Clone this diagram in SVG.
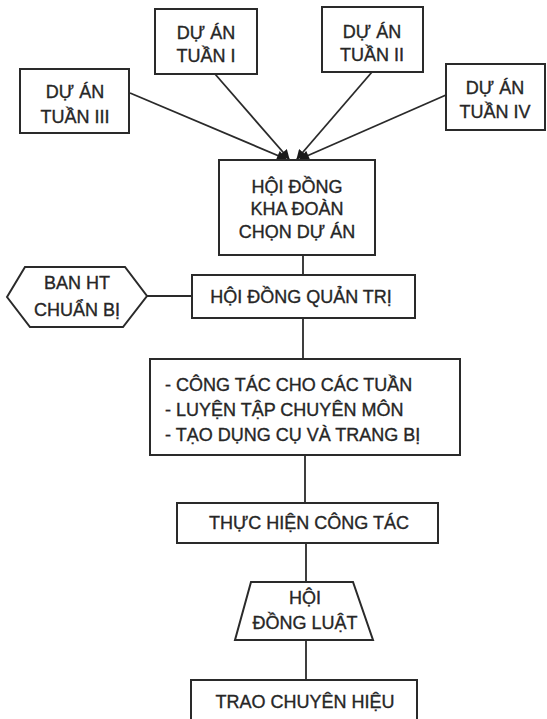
<svg xmlns="http://www.w3.org/2000/svg" width="547" height="719" viewBox="0 0 547 719">
<style>
.box{fill:#fff;stroke:#2a2a2a;stroke-width:2}
.t{font-family:"Liberation Sans",Arial,sans-serif;font-size:18px;fill:#262626;stroke:#262626;stroke-width:0.35;text-anchor:middle}
.l{text-anchor:start}
.c{fill:none;stroke:#2a2a2a;stroke-width:1.8}
</style>
<defs>
<marker id="ah" viewBox="0 0 10 10" refX="9" refY="5" markerWidth="6" markerHeight="5.5" orient="auto" markerUnits="strokeWidth">
<path d="M0,0 L10,5 L0,10 z" fill="#1a1a1a"/>
</marker>
</defs>
<rect width="547" height="719" fill="#fff"/>
<g id="connectors">
<line class="c" x1="130" y1="93" x2="286" y2="159" marker-end="url(#ah)"/>
<line class="c" x1="215" y1="74" x2="289" y2="159" marker-end="url(#ah)"/>
<line class="c" x1="372" y1="72" x2="297" y2="159" marker-end="url(#ah)"/>
<line class="c" x1="446" y1="95" x2="300" y2="159" marker-end="url(#ah)"/>
<line class="c" x1="303" y1="255" x2="303" y2="275"/>
<line class="c" x1="147" y1="296" x2="192" y2="296"/>
<line class="c" x1="303" y1="318" x2="303" y2="359"/>
<line class="c" x1="305" y1="455" x2="305" y2="503"/>
<line class="c" x1="306" y1="543" x2="306" y2="582"/>
<line class="c" x1="306" y1="640" x2="306" y2="680"/>
</g>
<g id="tuan1">
<rect class="box" x="155" y="9" width="102" height="65"/>
<text class="t" x="206" y="39">DỰ ÁN</text>
<text class="t" x="206" y="62">TUẦN I</text>
</g>
<g id="tuan2">
<rect class="box" x="322" y="7" width="101" height="65"/>
<text class="t" x="372" y="38">DỰ ÁN</text>
<text class="t" x="372" y="61">TUẦN II</text>
</g>
<g id="tuan3">
<rect class="box" x="20" y="69" width="109" height="64"/>
<text class="t" x="75" y="98">DỰ ÁN</text>
<text class="t" x="75" y="123">TUẦN III</text>
</g>
<g id="tuan4">
<rect class="box" x="446" y="64" width="99" height="66"/>
<text class="t" x="495" y="94">DỰ ÁN</text>
<text class="t" x="495" y="118">TUẦN IV</text>
</g>
<g id="khadoan">
<rect class="box" x="219" y="160" width="156" height="95"/>
<text class="t" x="297" y="193">HỘI ĐỒNG</text>
<text class="t" x="297" y="215">KHA ĐOÀN</text>
<text class="t" x="297" y="238">CHỌN DỰ ÁN</text>
</g>
<g id="banht">
<polygon class="box" points="7,297 25,267 125,267 147,296 123,327 30,327"/>
<text class="t" x="77" y="289">BAN HT</text>
<text class="t" x="77" y="316">CHUẨN BỊ</text>
</g>
<g id="quantri">
<rect class="box" x="192" y="275" width="223" height="43"/>
<text class="t" x="301" y="303">HỘI ĐỒNG QUẢN TRỊ</text>
</g>
<g id="congtac">
<rect class="box" x="150" y="359" width="310" height="96"/>
<text class="t l" x="165" y="391">- CÔNG TÁC CHO CÁC TUẦN</text>
<text class="t l" x="165" y="416">- LUYỆN TẬP CHUYÊN MÔN</text>
<text class="t l" x="165" y="441">- TẠO DỤNG CỤ VÀ TRANG BỊ</text>
</g>
<g id="thuchien">
<rect class="box" x="177" y="503" width="261" height="40"/>
<text class="t" x="309" y="529">THỰC HIỆN CÔNG TÁC</text>
</g>
<g id="hoidongluat">
<polygon class="box" points="251,582 353,582 373,640 235,640"/>
<text class="t" x="305" y="604">HỘI</text>
<text class="t" x="305" y="629">ĐỒNG LUẬT</text>
</g>
<g id="trao">
<rect class="box" x="191" y="680" width="226" height="45"/>
<text class="t" x="305" y="708">TRAO CHUYÊN HIỆU</text>
</g>
</svg>
